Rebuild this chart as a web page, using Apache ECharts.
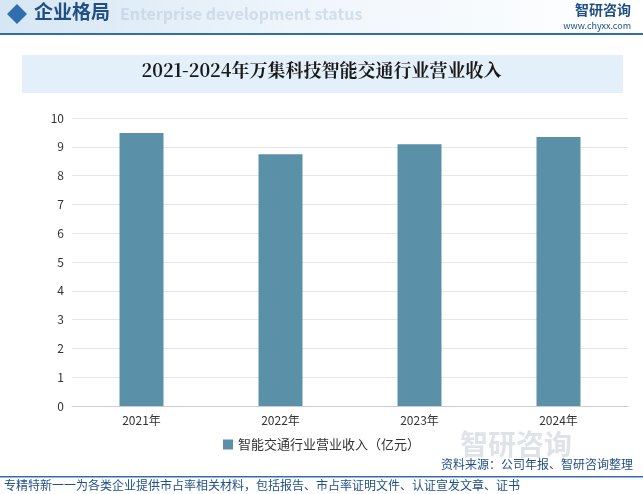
<!DOCTYPE html>
<html><head><meta charset="utf-8">
<script src="https://cdn.jsdelivr.net/npm/echarts@6/dist/echarts.min.js"></script>
<style>html,body{margin:0;padding:0;background:#fff}#c{width:643px;height:494px}</style>
</head><body><div id="c"></div>
<script>
const categories = ['2021年','2022年','2023年','2024年'];
const values = [9.48, 8.74, 9.09, 9.34];
const seriesName = '智能交通行业营业收入（亿元）';
const title = '2021-2024年万集科技智能交通行业营业收入';
const chart = echarts.init(document.getElementById('c'));
const F = '"Noto Sans CJK SC", sans-serif';
chart.setOption({
  animation:false,
  graphic:[
    {type:'rect',shape:{x:0,y:0,width:643,height:34},style:{fill:{type:'linear',x:0,y:0,x2:1,y2:0,colorStops:[{offset:0,color:'#d6e6f3'},{offset:0.45,color:'#eef5fb'},{offset:1,color:'#ffffff'}]}}},
    {type:'rect',shape:{x:0,y:33,width:643,height:2},style:{fill:'#2f6fb0'}},
    {type:'polygon',shape:{points:[[17,4],[27,14],[17,24],[7,14]]},style:{fill:'#2f6fb0'}},
    {type:'text',left:34,top:2,style:{text:'企业格局',font:'bold 19px '+F,fill:'#1f4f86'}},
    {type:'text',left:120,top:6,style:{text:'Enterprise development status',font:'bold 16px '+F,fill:'rgba(180,200,220,0.5)'}},
    {type:'text',right:12,top:3,style:{text:'智研咨询',font:'bold 14px '+F,fill:'#1f4f86'}},
    {type:'text',right:12,top:21,style:{text:'www.chyxx.com',font:'9px '+F,fill:'#1f4f86'}},
    {type:'rect',shape:{x:22,y:55,width:601,height:38},style:{fill:'#e3f0fa'}},
    {type:'text',left:'center',top:61,style:{text:title,font:'bold 18px "Noto Serif CJK SC", '+F,fill:'#1a1a1a'}},
    {type:'text',left:460,top:430,style:{text:'智研咨询',font:'bold 28px '+F,fill:'rgba(160,175,190,0.35)'}},
    {type:'text',right:10,top:458,style:{text:'资料来源：公司年报、智研咨询整理',font:'12px '+F,fill:'#1f4f86'}},
    {type:'rect',shape:{x:0,y:476,width:643,height:1.5},style:{fill:'#2f6fb0'}},
    {type:'text',left:4,top:479,style:{text:'专精特新一一为各类企业提供市占率相关材料，包括报告、市占率证明文件、认证宣发文章、证书',font:'12px '+F,fill:'#1f4f86'}}
  ],
  grid:{left:72,right:15,top:118,bottom:88},
  legend:{bottom:38,left:'center',itemWidth:10,itemHeight:10,icon:'rect',textStyle:{fontSize:13,color:'#333',fontFamily:F},data:[seriesName]},
  xAxis:{type:'category',data:categories,axisTick:{show:false},axisLine:{lineStyle:{color:'#ccc'}},axisLabel:{color:'#333',fontSize:12,fontFamily:F}},
  yAxis:{type:'value',min:0,max:10,interval:1,axisLine:{show:false},splitLine:{lineStyle:{color:'#e6e6e6'}},axisLabel:{color:'#333',fontSize:12,fontFamily:F}},
  series:[{name:seriesName,type:'bar',data:values,barWidth:44,itemStyle:{color:'#5b91a8'}}]
});
</script></body></html>
